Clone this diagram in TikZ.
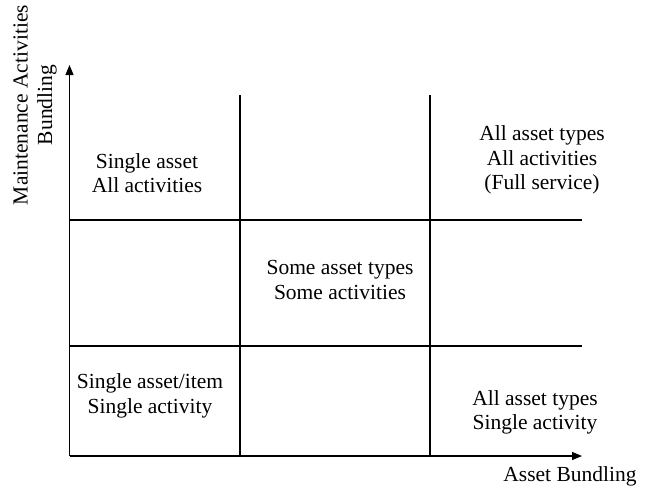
\documentclass[tikz,border=0pt]{standalone}
\usepackage{fontspec}
\setmainfont{Liberation Serif}
\usetikzlibrary{arrows.meta}
\tikzset{
  axis/.style={line width=1.2pt,-{Triangle[length=10pt,width=8pt]}},
  gridline/.style={line width=1.2pt},
  celltext/.style={align=center,inner sep=0pt,font=\fontsize{21.5}{24.5}\selectfont},
}
\begin{document}
\begin{tikzpicture}[x=1pt,y=-1pt]
\useasboundingbox (0,0) rectangle (654,488);
% axis coordinates
\coordinate (O) at (69.5,456);
\coordinate (Ytop) at (69.5,65);
\coordinate (Xend) at (582,456);
% grid coordinates
\coordinate (v1t) at (240,95);
\coordinate (v1b) at (240,456);
\coordinate (v2t) at (430,95);
\coordinate (v2b) at (430,456);
\coordinate (h1l) at (69.5,220);
\coordinate (h1r) at (582,220);
\coordinate (h2l) at (69.5,346);
\coordinate (h2r) at (582,346);
% grid
\draw[gridline] (v1t) -- (v1b);
\draw[gridline] (v2t) -- (v2b);
\draw[gridline] (h1l) -- (h1r);
\draw[gridline] (h2l) -- (h2r);
% axes
\draw[axis] (O) -- (Ytop);
\draw[axis] (O) -- (Xend);
% axis labels
\node[celltext,rotate=90] (ylab) at (35,105) {Maintenance Activities\\Bundling};
\node[celltext] (xlab) at (570,476) {Asset Bundling};
% cells
\node[celltext] (c1) at (147,173.2) {Single asset\\All activities};
\node[celltext] (c2) at (340,280.2) {Some asset types\\Some activities};
\node[celltext] (c3) at (542,160) {All asset types\\All activities\\(Full service)};
\node[celltext] (c4) at (150,396) {Single asset/item\\Single activity};
\node[celltext] (c5) at (535,412.5) {All asset types\\Single activity};
\end{tikzpicture}
\end{document}
